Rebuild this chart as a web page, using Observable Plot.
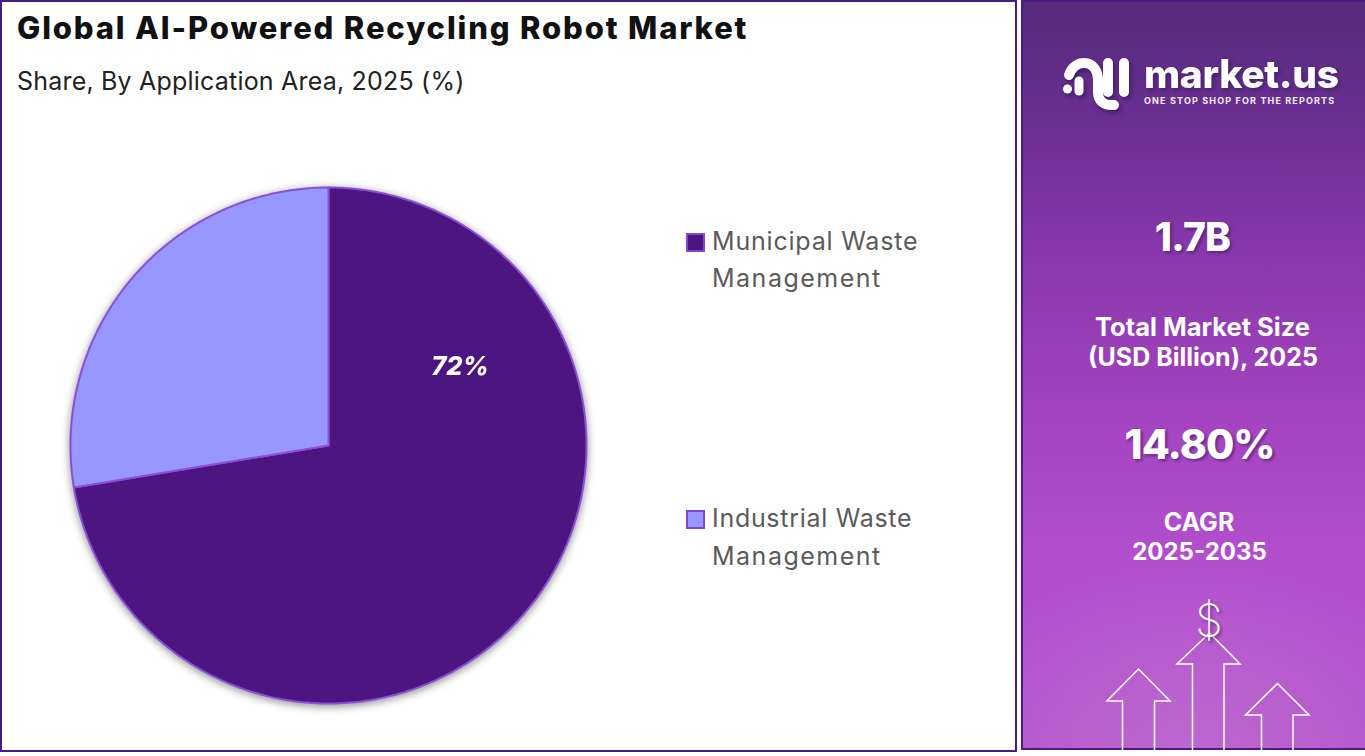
<!DOCTYPE html>
<html>
<head>
<meta charset="utf-8">
<script src="https://cdn.jsdelivr.net/npm/d3@7"></script>
<script src="https://cdn.jsdelivr.net/npm/@observablehq/plot@0.6"></script>
<style>
html,body{margin:0;padding:0;background:#fff;}
#page{position:relative;width:1365px;height:756px;overflow:hidden;font-family:Inter,"Noto Sans",sans-serif;}
#left{position:absolute;left:0;top:0;width:1013px;height:748px;border:2px solid #4b1a87;background:#fff;}
#right{position:absolute;left:1021px;top:0;width:344px;height:750px;box-sizing:border-box;border:2px solid #4b1a87;border-right:0;
 background:radial-gradient(ellipse 260px 190px at 50% 100%,rgba(190,112,208,.75),rgba(190,112,208,0)),linear-gradient(180deg,#552b7c 0%,#672e8f 14%,#8637a9 32%,#a443bf 55%,#b34fcd 75%,#b552cd 100%);}
.t{position:absolute;white-space:nowrap;line-height:1;}
.c{transform:translate(-50%,-50%);color:#fff;font-weight:700;text-align:center;}
.s{text-shadow:2px 2px 3px rgba(50,20,90,.55);}
#chart{position:absolute;left:60px;top:177px;filter:drop-shadow(0 2px 4px rgba(0,0,0,.45));}
.sw{position:absolute;width:15px;height:15px;border:2px solid #8347cf;}
.lg{color:#5b5b5b;font-size:25px;font-weight:400;}
#deco{position:absolute;left:0;top:0;}
</style>
</head>
<body>
<div id="page">
  <div id="left"></div>
  <div id="right"></div>
  <div class="t" id="title" style="left:17px;top:12px;font-size:31px;font-weight:800;color:#111;letter-spacing:1.85px;"></div>
  <div class="t" id="subtitle" style="left:17px;top:69px;font-size:25px;color:#222;letter-spacing:.2px;"></div>
  <div id="chart"></div>
  <div id="legend"></div>
  <svg id="deco" width="1365" height="756" fill="none" stroke="#fff">
    <g stroke-width="1.5">
      <path d="M1122.500 750V701H1107L1138.500 669L1170 701H1154.500V750"/>
      <path d="M1192.500 750V664H1177L1209.500 633L1240 664H1224V750"/>
      <path d="M1261.500 750V715H1245.500L1277.500 683.500L1309 715H1293V750"/>
    </g>
    <g filter="drop-shadow(2px 3px 2px rgba(40,15,80,.55))" stroke-width="10" stroke-linecap="round">
      <circle cx="1067.500" cy="89" r="4.500" fill="#fff" stroke="none"/>
      <path d="M1069 75C1072 66 1079 63 1084 63C1094 63 1098 72 1098 80V92C1098 100 1103 106 1114 105"/>
      <path d="M1079 91V81" stroke-width="9"/>
      <path d="M1108 63V92"/>
      <path d="M1124 63V92"/>
    </g>
  </svg>
  <div class="t" id="brand" style="left:1144px;top:53.500px;font-size:39px;font-weight:800;color:#fff;letter-spacing:-.3px;filter:drop-shadow(2px 2px 2px rgba(40,15,80,.5));"></div>
  <div class="t" id="tag" style="left:1144px;top:96px;font-size:9px;font-weight:700;color:#f4ecf8;letter-spacing:1.15px;"></div>
  <div id="stats"></div>
</div>
<script>
const title = "Global AI-Powered Recycling Robot Market";
const subtitle = "Share, By Application Area, 2025 (%)";
const segments = ["Municipal Waste Management", "Industrial Waste Management"];
const shares = [72.4, 27.6];
const segmentColors = ["#4d1580", "#9896ff"];
const legendLines = [["Municipal Waste", "Management"], ["Industrial Waste", "Management"]];
const shownLabel = "72%";
const brand = "market.us";
const tagline = "ONE STOP SHOP FOR THE REPORTS";
const statTexts = ["1.7B", "Total Market Size", "(USD Billion), 2025", "14.80%", "CAGR", "2025-2035", "$"];

document.getElementById("title").textContent = title;
document.getElementById("subtitle").textContent = subtitle;
document.getElementById("brand").textContent = brand;
document.getElementById("tag").textContent = tagline;

// Stats panel text
const statStyle = [
  {x:1192.500,y:236,size:39,cls:"s",w:800,ls:-.8},
  {x:1202.500,y:327,size:25.500,cls:"",w:700,ls:0},
  {x:1203,y:357,size:25,cls:"",w:700,ls:0},
  {x:1199.500,y:444,size:41,cls:"s",w:800,ls:-1},
  {x:1199,y:522,size:25,cls:"",w:700,ls:0},
  {x:1199.500,y:552,size:24,cls:"",w:700,ls:0},
  {x:1209,y:620,size:44,cls:"s",w:200,ls:0}
];
const stats = document.getElementById("stats");
statTexts.forEach((s,i)=>{
  const st = statStyle[i];
  const d = document.createElement("div");
  d.className = "t c " + st.cls;
  d.style.cssText = `left:${st.x}px;top:${st.y}px;font-size:${st.size}px;font-weight:${st.w};letter-spacing:${st.ls}px;`;
  d.textContent = s;
  stats.appendChild(d);
});

// Legend
const legendRows = [[242,279],[519,557]];
const legendSpacing = [[.8,1.5],[.7,1.5]];
const legend = document.getElementById("legend");
legendLines.forEach((lines,i)=>{
  const sw = document.createElement("div");
  sw.className = "sw";
  sw.style.cssText = `left:686px;top:${legendRows[i][0]-9}px;background:${segmentColors[i]};`;
  legend.appendChild(sw);
  lines.forEach((l,j)=>{
    const d = document.createElement("div");
    d.className = "t lg";
    d.style.cssText = `left:712px;top:${legendRows[i][j]-13}px;letter-spacing:${legendSpacing[i][j]}px;`;
    d.textContent = l;
    legend.appendChild(d);
  });
});

// Pie, from the shares, drawn through Plot's x, y and color scales
const pie = d3.pie().sort(null).value(d => d)(shares);
const slices = pie.flatMap((p,i) => {
  const n = Math.ceil((p.endAngle - p.startAngle) * 180 / Math.PI * 2);
  const arc = d3.range(n + 1).map(k => {
    const a = p.startAngle + (p.endAngle - p.startAngle) * k / n;
    return {segment: segments[i], x: Math.sin(a), y: Math.cos(a)};
  });
  return [{segment: segments[i], x: 0, y: 0}, ...arc, {segment: segments[i], x: 0, y: 0}];
});
const labelAngle = pie[0].endAngle * 0.225;
const labels = [{text: shownLabel, x: 0.597 * Math.sin(labelAngle), y: 0.597 * Math.cos(labelAngle)}];

const plot = Plot.plot({
  width: 536, height: 536, margin: 10,
  style: {background: "transparent", overflow: "visible"},
  x: {domain: [-1, 1], axis: null},
  y: {domain: [-1, 1], axis: null},
  color: {domain: segments, range: segmentColors},
  marks: [
    Plot.line(slices, {x: "x", y: "y", z: "segment", fill: "segment", stroke: "#8a4fd8", strokeWidth: 2, strokeLinejoin: "round"}),
    Plot.text(labels, {x: "x", y: "y", text: "text", dy: 1.5, fill: "#fff", fontSize: 25.5, fontWeight: 800, fontStyle: "italic", fontFamily: "Inter, sans-serif"})
  ]
});
document.getElementById("chart").appendChild(plot);
</script>
</body>
</html>
